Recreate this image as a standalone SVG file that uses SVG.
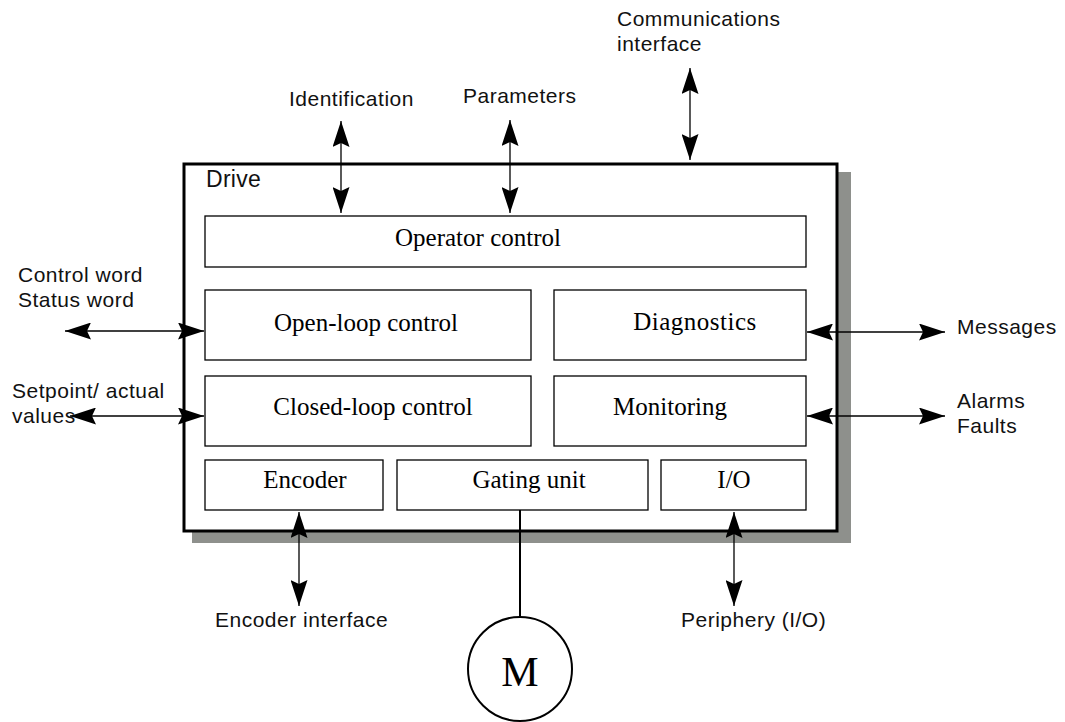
<svg xmlns="http://www.w3.org/2000/svg" width="1065" height="722" viewBox="0 0 1065 722">
<style>
.sans{font-family:"Liberation Sans",Arial,sans-serif;font-size:21px;letter-spacing:0.5px;fill:#111}
.serif{font-family:"Liberation Serif","Times New Roman",serif;font-size:25px;fill:#000;text-anchor:middle}
.blk{fill:#fff;stroke:#000;stroke-width:1.3}
.arr{stroke:#000;stroke-width:1.3;fill:none;marker-start:url(#ah);marker-end:url(#ah)}
</style>
<defs>
<marker id="ah" viewBox="0 0 26 17" refX="26" refY="8.5" markerWidth="26" markerHeight="17" markerUnits="userSpaceOnUse" orient="auto-start-reverse">
<path d="M0,0 L26,8.5 L0,17 L4,8.5 Z" fill="#000"/>
</marker>
</defs>
<rect x="0" y="0" width="1065" height="722" fill="#fff"/>
<g id="drive">
<rect x="192" y="172" width="659" height="371" fill="#8e908c"/>
<rect x="184" y="164" width="653" height="367" fill="#fff" stroke="#000" stroke-width="3"/>
<text class="sans" x="206" y="187" style="font-size:23px;letter-spacing:0.3px">Drive</text>
</g>
<g id="operator-control"><rect class="blk" x="205" y="216" width="601" height="51"/><text class="serif" x="478" y="246">Operator control</text></g>
<g id="open-loop-control"><rect class="blk" x="205" y="290" width="326" height="70"/><text class="serif" x="366" y="331">Open-loop control</text></g>
<g id="diagnostics"><rect class="blk" x="554" y="290" width="252" height="70"/><text class="serif" x="695" y="330" style="letter-spacing:0.5px">Diagnostics</text></g>
<g id="closed-loop-control"><rect class="blk" x="205" y="376" width="326" height="70"/><text class="serif" x="373" y="415">Closed-loop control</text></g>
<g id="monitoring"><rect class="blk" x="554" y="376" width="252" height="70"/><text class="serif" x="670" y="415">Monitoring</text></g>
<g id="encoder"><rect class="blk" x="205" y="460" width="178" height="50"/><text class="serif" x="305" y="488">Encoder</text></g>
<g id="gating-unit"><rect class="blk" x="397" y="460" width="251" height="50"/><text class="serif" x="529" y="488">Gating unit</text></g>
<g id="io"><rect class="blk" x="661" y="460" width="145" height="50"/><text class="serif" x="734" y="488">I/O</text></g>
<g id="motor"><circle cx="520" cy="669" r="52" fill="#fff" stroke="#000" stroke-width="2"/><text class="serif" x="520" y="686" style="font-size:42px">M</text></g>
<g id="labels">
<text class="sans" x="289" y="106">Identification</text>
<text class="sans" x="463" y="103">Parameters</text>
<text class="sans" x="617" y="26">Communications</text>
<text class="sans" x="617" y="51">interface</text>
<text class="sans" x="18" y="282">Control word</text>
<text class="sans" x="18" y="307">Status word</text>
<text class="sans" x="12" y="398">Setpoint/ actual</text>
<text class="sans" x="12" y="423">values</text>
<text class="sans" x="957" y="334">Messages</text>
<text class="sans" x="957" y="408">Alarms</text>
<text class="sans" x="957" y="433">Faults</text>
<text class="sans" x="215" y="627">Encoder interface</text>
<text class="sans" x="681" y="627">Periphery (I/O)</text>
</g>
<g id="connectors">
<line class="arr" x1="341" y1="121" x2="341" y2="213"/>
<line class="arr" x1="510" y1="120" x2="510" y2="213"/>
<line class="arr" x1="690" y1="68" x2="690" y2="160"/>
<line class="arr" x1="65" y1="331" x2="204" y2="331"/>
<line class="arr" x1="70" y1="416" x2="204" y2="416"/>
<line class="arr" x1="807" y1="332" x2="945" y2="332"/>
<line class="arr" x1="807" y1="416" x2="945" y2="416"/>
<line class="arr" x1="299" y1="512" x2="299" y2="606"/>
<line class="arr" x1="734" y1="512" x2="734" y2="606"/>
<line x1="520" y1="510" x2="520" y2="617" stroke="#000" stroke-width="2"/>
</g>
</svg>
